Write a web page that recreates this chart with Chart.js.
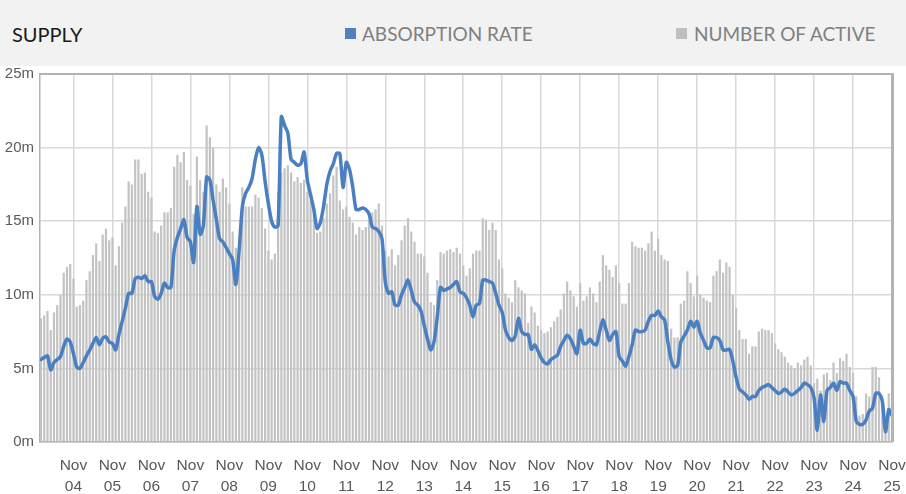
<!DOCTYPE html>
<html>
<head>
<meta charset="utf-8">
<script src="https://cdn.jsdelivr.net/npm/chart.js@4/dist/chart.umd.min.js"></script>
<style>
  html, body { margin: 0; padding: 0; background: #ffffff; }
  #wrap { position: relative; width: 906px; height: 494px; overflow: hidden; }
  #header { position: absolute; left: 0; top: 0; width: 906px; height: 66px; background: #f2f2f2; z-index: 2; }
  #header span { position: absolute; top: 22px; font-family: Lato, "Open Sans", sans-serif; font-size: 19px; line-height: 24px; white-space: nowrap; }
  #title { left: 12px; color: #1a1a1a; font-size: 20px !important; }
  .lg { color: #808080; }
  .sw { position: absolute; top: 28px; width: 11px; height: 11px; }
  canvas { position: absolute; left: 0; top: 0; }
</style>
</head>
<body>
<div id="wrap">
  <div id="header">
    <span id="title">SUPPLY</span>
    <div class="sw" style="left:345px;background:#4f81bd"></div>
    <span class="lg" style="left:362px">ABSORPTION RATE</span>
    <div class="sw" style="left:676px;background:#bfbfbf"></div>
    <span class="lg" style="left:694px">NUMBER OF ACTIVE</span>
  </div>
  <canvas id="c" width="906" height="494"></canvas>
</div>
<script>
// Monthly series, first value = Jan 2004, last value = Nov 2025 (values in millions)
const startYear = 2004;
const activeListings = [
  8.4, 8.6, 8.9, 7.6, 8.8, 9.3, 10.0, 11.5, 11.9, 12.1, 11.1, 9.2,      // 2004
  9.3, 9.6, 11.0, 11.6, 12.7, 13.5, 12.3, 14.1, 14.5, 13.7, 13.9, 12.0, // 2005
  13.3, 14.9, 16.0, 17.7, 17.5, 19.2, 19.2, 18.2, 18.3, 17.0, 16.6, 14.3, // 2006
  14.2, 14.7, 15.6, 15.6, 15.9, 18.7, 19.5, 19.0, 19.7, 17.8, 17.4, 15.5, // 2007
  19.4, 17.8, 17.0, 21.5, 20.7, 20.0, 17.5, 17.0, 17.9, 17.3, 16.2, 14.3, // 2008
  13.2, 12.5, 17.3, 16.0, 16.0, 16.0, 16.8, 16.6, 15.9, 14.5, 13.0, 12.4, // 2009
  12.8, 17.0, 18.3, 18.6, 18.8, 18.3, 17.7, 18.0, 17.6, 17.8, 17.0, 16.4, // 2010
  15.6, 14.2, 14.3, 15.2, 16.2, 16.9, 18.1, 18.7, 16.4, 15.8, 16.0, 15.3, // 2011
  14.9, 14.1, 14.6, 14.4, 14.6, 15.1, 15.6, 15.8, 16.2, 14.7, 13.0, 12.6, // 2012
  13.1, 12.0, 12.7, 13.7, 14.7, 15.2, 14.3, 13.6, 12.8, 12.8, 12.6, 11.5, // 2013
  9.5, 9.3, 11.0, 12.9, 12.8, 13.0, 13.1, 12.9, 13.2, 12.8, 12.0, 11.3,   // 2014
  11.8, 12.8, 13.0, 13.0, 15.2, 15.1, 14.4, 14.9, 14.4, 12.4, 11.8, 10.1, // 2015
  9.8, 9.5, 11.0, 10.5, 10.3, 10.1, 8.1, 9.2, 8.8, 7.9, 7.6, 7.4,         // 2016
  7.5, 7.8, 8.2, 8.5, 9.0, 10.1, 10.9, 10.3, 9.9, 9.2, 10.8, 9.6,         // 2017
  9.9, 10.5, 10.1, 9.5, 10.9, 12.7, 12.0, 11.7, 11.2, 12.0, 10.8, 9.4,    // 2018
  9.4, 10.8, 13.6, 13.3, 13.2, 13.2, 13.0, 13.5, 14.3, 13.0, 13.8, 12.7,  // 2019
  12.4, 12.3, 7.7, 7.1, 7.1, 9.4, 9.6, 11.6, 10.8, 9.9, 11.3, 10.0,       // 2020
  9.8, 9.6, 9.5, 11.3, 11.6, 12.4, 11.5, 12.2, 11.9, 10.0, 9.1, 7.6,      // 2021
  7.0, 7.0, 6.0, 6.5, 6.5, 7.5, 7.7, 7.6, 7.6, 7.4, 6.7, 6.3,             // 2022
  6.1, 5.8, 5.4, 5.2, 5.0, 5.4, 5.2, 5.6, 5.8, 5.2, 4.0, 4.3,             // 2023
  3.5, 4.6, 4.7, 4.2, 5.4, 4.7, 5.7, 5.5, 6.0, 5.1, 4.7, 3.1,             // 2024
  1.8, 1.9, 3.3, 3.1, 5.1, 5.1, 4.4, 2.9, 1.5, 3.3, 3.3                   // 2025
];
const absorptionRate = [
  5.6, 5.75, 5.85, 4.9, 5.4, 5.6, 5.8, 6.5, 7.0, 6.8, 6.0, 5.1,          // 2004
  5.0, 5.4, 5.85, 6.25, 6.7, 7.1, 6.6, 7.05, 7.15, 6.8, 6.7, 6.25,       // 2005
  7.3, 8.2, 9.1, 10.1, 10.1, 11.1, 11.2, 11.1, 11.3, 10.9, 10.9, 9.9,    // 2006
  9.7, 10.1, 10.8, 10.5, 10.5, 13.0, 13.9, 14.5, 15.1, 13.9, 13.6, 12.2, // 2007
  16.0, 14.1, 14.7, 18.0, 17.8, 16.4, 15.1, 13.8, 13.6, 13.2, 12.8, 12.4, // 2008
  10.7, 13.0, 16.0, 16.9, 17.3, 17.9, 19.2, 20.0, 19.5, 17.7, 16.2, 15.0, // 2009
  14.6, 14.7, 22.1, 21.5, 21.0, 19.2, 19.0, 18.8, 18.9, 19.7, 17.8, 16.8, // 2010
  15.8, 14.5, 14.9, 16.0, 17.5, 18.4, 18.9, 19.6, 19.6, 17.3, 19.0, 18.5, // 2011
  17.3, 15.8, 15.8, 15.9, 15.8, 15.5, 14.6, 14.5, 14.3, 13.8, 10.9, 10.1, // 2012
  10.2, 9.3, 9.3, 10.0, 10.5, 11.0, 10.3, 9.5, 9.3, 8.9, 7.9, 7.0,       // 2013
  6.25, 6.8, 8.5, 10.5, 10.3, 10.4, 10.5, 10.7, 10.9, 10.2, 10.1, 9.8,   // 2014
  9.3, 8.5, 9.3, 9.4, 11.0, 11.0, 10.9, 10.8, 10.1, 9.3, 8.8, 7.6,       // 2015
  7.1, 6.9, 7.2, 8.4, 7.5, 7.3, 7.3, 6.3, 6.6, 6.2, 5.7, 5.4,            // 2016
  5.3, 5.6, 5.75, 5.9, 6.5, 6.9, 7.25, 7.0, 6.5, 6.0, 7.6, 6.7,          // 2017
  6.7, 7.0, 6.7, 6.6, 7.5, 8.3, 7.6, 6.9, 7.3, 7.5, 5.8, 5.5,            // 2018
  5.15, 5.8, 6.6, 7.6, 7.5, 7.5, 7.6, 8.2, 8.6, 8.6, 8.9, 8.5,           // 2019
  8.3, 6.8, 5.6, 5.1, 5.2, 6.8, 7.2, 7.6, 8.2, 7.8, 8.2, 7.4,            // 2020
  6.9, 6.4, 6.4, 7.1, 7.1, 6.9, 6.25, 6.25, 6.3, 5.5, 4.4, 3.6,          // 2021
  3.4, 3.2, 2.9, 3.1, 3.1, 3.5, 3.7, 3.8, 3.9, 3.7, 3.5, 3.3,            // 2022
  3.4, 3.6, 3.4, 3.2, 3.3, 3.5, 3.7, 4.0, 3.9, 3.7, 3.0, 0.8,            // 2023
  3.2, 1.4, 3.5, 3.7, 4.0, 3.5, 4.1, 4.0, 4.0, 3.5, 3.1, 1.4,            // 2024
  1.2, 1.2, 1.5, 2.1, 2.3, 3.3, 3.3, 2.8, 0.7, 2.2, 1.8                  // 2025
];
const tickMonthName = 'Nov';
const tickMonthIndex = 10; // November within each year
const tickYears = ['04','05','06','07','08','09','10','11','12','13','14','15','16','17','18','19','20','21','22','23','24','25'];
const yTicks = [0, 5, 10, 15, 20, 25];
const seriesNames = ['ABSORPTION RATE', 'NUMBER OF ACTIVE'];

const toPoints = arr => arr.map((v, i) => ({ x: i, y: v }));
const tickPositions = tickYears.map((y, k) => k * 12 + tickMonthIndex);
const tickText = {};
tickPositions.forEach((p, k) => { tickText[p] = [tickMonthName, tickYears[k]]; });

const framePlugin = {
  id: 'frame',
  afterDraw(chart) {
    const { ctx, chartArea: a } = chart;
    ctx.save();
    ctx.strokeStyle = '#b3b3b3';
    ctx.lineWidth = 2;
    ctx.beginPath(); ctx.moveTo(a.left, a.top); ctx.lineTo(a.right + 2, a.top); ctx.stroke();
    ctx.lineWidth = 3;
    ctx.beginPath(); ctx.moveTo(a.right + 0.5, a.top); ctx.lineTo(a.right + 0.5, a.bottom); ctx.stroke();
    ctx.restore();
  }
};

new Chart(document.getElementById('c'), {
  type: 'bar',
  data: {
    datasets: [
      {
        type: 'line', label: seriesNames[0], data: toPoints(absorptionRate),
        borderColor: '#4a7fc1', borderWidth: 3.5, pointRadius: 0, tension: 0.25, order: 0,
        borderJoinStyle: 'round', borderCapStyle: 'round'
      },
      {
        type: 'bar', label: seriesNames[1], data: toPoints(activeListings),
        backgroundColor: '#c3c3c3', categoryPercentage: 1, barPercentage: 0.68, order: 1
      }
    ]
  },
  options: {
    responsive: false, animation: false,
    layout: { padding: { top: 74, right: 14, left: 0, bottom: 0 } },
    plugins: { legend: { display: false }, tooltip: { enabled: false } },
    scales: {
      x: {
        type: 'linear', min: -0.3, max: tickPositions[tickPositions.length - 1], offset: false,
        afterBuildTicks: s => { s.ticks = tickPositions.map(v => ({ value: v })); },
        afterFit: s => { s.height = 52; s.paddingLeft = 0; s.paddingRight = 0; },
        ticks: {
          autoSkip: false, maxRotation: 0, padding: 14, color: '#595959',
          font: { family: 'Arial, "Liberation Sans", sans-serif', size: 15.5, lineHeight: 1.3 },
          callback: v => tickText[v] || ''
        },
        grid: { color: '#d9d9d9', lineWidth: 1.5, drawTicks: false, offset: false },
        border: { color: '#b3b3b3', width: 1.5 }
      },
      y: {
        min: 0, max: 25,
        afterBuildTicks: s => { s.ticks = yTicks.map(v => ({ value: v })); },
        afterFit: s => { s.width = 40; s.paddingTop = 0; s.paddingBottom = 0; },
        ticks: {
          padding: 6, color: '#595959',
          font: { family: 'Arial, "Liberation Sans", sans-serif', size: 15 },
          callback: v => v + 'm'
        },
        grid: { color: '#d9d9d9', lineWidth: 1.5, drawTicks: false },
        border: { color: '#b3b3b3', width: 1.5 }
      }
    }
  },
  plugins: [framePlugin]
});
</script>
</body>
</html>
